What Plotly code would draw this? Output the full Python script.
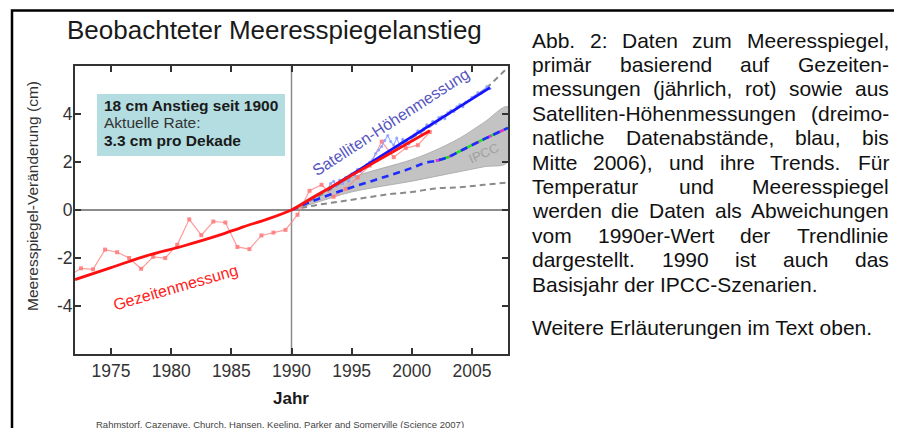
import plotly.graph_objects as go

# ---------------- data ----------------
tide_years = [1971.5, 1972.5, 1973.5, 1974.5, 1975.5, 1976.5, 1977.5, 1978.5, 1979.5, 1980.5,
              1981.5, 1982.5, 1983.5, 1984.5, 1985.5, 1986.5, 1987.5, 1988.5, 1989.5, 1990.5,
              1991.5, 1992.5, 1993.5, 1994.5, 1995.5, 1996.5, 1997.5, 1998.5, 1999.5, 2000.5, 2001.5]
tide_values = [-2.75, -2.43, -2.47, -1.65, -1.76, -2.0, -2.45, -1.95, -2.0, -1.45,
               -0.39, -1.05, -0.48, -0.52, -1.54, -1.63, -1.06, -0.94, -0.83, -0.2,
               0.8, 1.05, 0.55, 0.88, 1.35, 1.85, 2.85, 2.2, 2.58, 2.7, 3.25]

tide_trend_years = [1972, 1975, 1978, 1981, 1984, 1986, 1988, 1990, 1992, 1995, 1998, 2001.5]
tide_trend_values = [-2.9, -2.4, -1.9, -1.5, -1.05, -0.7, -0.38, 0.0, 0.58, 1.45, 2.3, 3.3]

sat_years = [1993.0 + 0.25 * i for i in range(55)]
sat_values = [0.85, 1.1, 1.2, 1.0, 1.25, 1.1, 1.35, 1.2, 1.5, 1.45,
              1.7, 1.6, 1.75, 1.9, 2.0, 2.1, 2.35, 2.5, 2.65, 2.9,
              3.1, 2.85, 2.7, 3.0, 2.7, 2.95, 2.8, 2.75, 3.0, 3.15,
              3.3, 3.2, 3.4, 3.55, 3.5, 3.7, 3.6, 3.85, 3.9, 3.8,
              4.05, 4.15, 4.1, 4.3, 4.4, 4.3, 4.5, 4.55, 4.7, 4.75,
              4.9, 4.85, 5.0, 5.15, 5.05]

sat_trend_years = [1993.0, 2006.5]
sat_trend_values = [0.85, 5.1]

ipcc_years = [1990, 1992, 1995, 2000, 2002, 2004, 2006, 2008]
ipcc_upper = [0.0, 0.65, 1.35, 2.1, 2.5, 3.0, 3.65, 4.3]
ipcc_lower = [0.0, 0.3, 0.75, 1.2, 1.4, 1.6, 1.8, 2.0]

ipcc_mid_years = [1990, 1991, 1992, 1994, 1996, 1998, 2000, 2001, 2002, 2003, 2004, 2006, 2008]
ipcc_mid_values = [0.0, 0.22, 0.42, 0.78, 1.1, 1.42, 1.75, 1.95, 2.05, 2.2, 2.45, 2.95, 3.42]

proj_high_years = [1990, 1991, 1992, 1994, 1996, 1998, 2000, 2002, 2004, 2006, 2008]
proj_high_values = [0.0, 0.25, 0.5, 1.1, 1.75, 2.4, 3.0, 3.65, 4.3, 5.0, 5.95]

proj_low_years = [1990, 1991, 1992, 1994, 1996, 1998, 2000, 2002, 2004, 2006, 2008]
proj_low_values = [0.0, 0.1, 0.2, 0.35, 0.5, 0.65, 0.75, 0.9, 0.95, 1.05, 1.15]

scen_years = [2002, 2003, 2004, 2006, 2008]
scen_values = [2.05, 2.2, 2.45, 2.95, 3.42]

x_ticks = [1975, 1980, 1985, 1990, 1995, 2000, 2005]
y_ticks = [-4, -2, 0, 2, 4]
y_tick_labels = ["-4", "-2", "0", "2", "4"]

caption_lines = [
    "Abb. 2: Daten zum Meeresspiegel,",
    "primär basierend auf Gezeiten-",
    "messungen (jährlich, rot) sowie aus",
    "Satelliten-Höhenmessungen (dreimo-",
    "natliche Datenabstände, blau, bis",
    "Mitte 2006), und ihre Trends. Für",
    "Temperatur und Meeresspiegel",
    "werden die Daten als Abweichungen",
    "vom 1990er-Wert der Trendlinie",
    "dargestellt. 1990 ist auch das",
    "Basisjahr der IPCC-Szenarien.",
]
caption_extra = "Weitere Erläuterungen im Text oben."

# ---------------- layout helpers ----------------
OFF = 8                      # page body margin added by the html page
W, H = 902 - OFF, 428 - OFF
PL, PR, PT, PB = 75, 508, 66, 354   # plot area in page pixels


def fx(px):
    return (px - PL) / (PR - PL)


def fy(py):
    return (PB - py) / (PB - PT)


# Arial / Liberation Sans advance widths (per 1000 em)
AW = {' ': 278, '.': 278, ',': 278, ':': 278, '(': 333, ')': 333, '-': 333,
      'a': 556, 'b': 556, 'c': 500, 'd': 556, 'e': 556, 'f': 278, 'g': 556, 'h': 556,
      'i': 222, 'j': 222, 'k': 500, 'l': 222, 'm': 833, 'n': 556, 'o': 556, 'p': 556,
      'q': 556, 'r': 333, 's': 500, 't': 278, 'u': 556, 'v': 500, 'w': 722, 'x': 500,
      'y': 500, 'z': 500, 'ä': 556, 'ö': 556, 'ü': 556,
      'A': 667, 'B': 667, 'C': 722, 'D': 722, 'E': 667, 'F': 611, 'G': 778, 'H': 722,
      'I': 278, 'J': 500, 'K': 667, 'L': 556, 'M': 833, 'N': 722, 'O': 778, 'P': 667,
      'R': 722, 'S': 667, 'T': 611, 'U': 722, 'V': 667, 'W': 944, 'Z': 611}
for d in "0123456789":
    AW[d] = 556


def text_w(s, size):
    return sum(AW.get(ch, 556) for ch in s) * size / 1000.0


FONT = "Liberation Sans, Arial, sans-serif"

fig = go.Figure()

# IPCC band
fig.add_trace(go.Scatter(
    x=ipcc_years + ipcc_years[::-1], y=ipcc_upper + ipcc_lower[::-1],
    fill="toself", fillcolor="rgba(185,185,185,0.85)", line=dict(color="rgba(160,160,160,0.9)", width=0.8),
    mode="lines", hoverinfo="skip", showlegend=False, line_shape="spline"))

# grey dashed projections
fig.add_trace(go.Scatter(x=proj_low_years, y=proj_low_values, mode="lines",
                         line=dict(color="#8a8a8a", width=2, dash="6px,4px", shape="spline"),
                         showlegend=False))
fig.add_trace(go.Scatter(x=proj_high_years, y=proj_high_values, mode="lines",
                         line=dict(color="#8a8a8a", width=2, dash="6px,4px", shape="spline"),
                         showlegend=False))

# tide gauge annual data
fig.add_trace(go.Scatter(x=tide_years, y=tide_values, mode="lines+markers",
                         line=dict(color="rgba(255,130,130,0.8)", width=1.2),
                         marker=dict(symbol="square", size=4, color="rgba(255,120,120,0.85)"),
                         showlegend=False))

# satellite data
fig.add_trace(go.Scatter(x=sat_years, y=sat_values, mode="lines+markers",
                         line=dict(color="rgba(140,160,255,0.85)", width=1.2),
                         marker=dict(symbol="circle", size=3, color="rgba(140,160,255,0.9)"),
                         showlegend=False))

# scenario colour dashes
fig.add_trace(go.Scatter(x=scen_years, y=scen_values, mode="lines",
                         line=dict(color="#22dd22", width=2.6, shape="spline"), showlegend=False))
fig.add_trace(go.Scatter(x=scen_years, y=scen_values, mode="lines",
                         line=dict(color="#ee22ee", width=2.6, dash="5px,9px", shape="spline"), showlegend=False))

# IPCC central projection
fig.add_trace(go.Scatter(x=ipcc_mid_years, y=ipcc_mid_values, mode="lines",
                         line=dict(color="#1f2cff", width=2.6, dash="7px,5px", shape="spline"),
                         showlegend=False))

# satellite trend
fig.add_trace(go.Scatter(x=sat_trend_years, y=sat_trend_values, mode="lines",
                         line=dict(color="#1414ff", width=2.6), showlegend=False))

# tide gauge trend
fig.add_trace(go.Scatter(x=tide_trend_years, y=tide_trend_values, mode="lines",
                         line=dict(color="#ff1010", width=2.8, shape="spline", smoothing=0.8),
                         showlegend=False))

shapes = [
    dict(type="line", xref="x", yref="paper", x0=1990, x1=1990, y0=0, y1=1,
         line=dict(color="#8c8c8c", width=1.5), layer="below"),
    dict(type="rect", xref="paper", yref="paper", x0=fx(97), x1=fx(285), y0=fy(156), y1=fy(94),
         fillcolor="#b3dde1", line=dict(width=0), layer="below"),
    dict(type="rect", xref="paper", yref="paper", x0=fx(12), x1=fx(895.5), y0=fy(445), y1=fy(10.5),
         line=dict(color="black", width=2.5), fillcolor="rgba(0,0,0,0)"),
]

ann = []
ann.append(dict(x=fx(274), y=fy(30), text="Beobachteter Meeresspiegelanstieg",
                font=dict(family=FONT, size=26, color="#1a1a1a")))
ann.append(dict(x=fx(32), y=fy(196), text="Meeresspiegel-Veränderung (cm)", textangle=-90,
                font=dict(family=FONT, size=15.5, color="#333333")))
ann.append(dict(x=fx(291), y=fy(398), text="<b>Jahr</b>",
                font=dict(family=FONT, size=17, color="#1a1a1a")))
ann.append(dict(x=fx(280), y=fy(424), text="Rahmstorf, Cazenave, Church, Hansen, Keeling, Parker and Somerville (Science 2007)",
                font=dict(family=FONT, size=9.5, color="#444444")))
ann.append(dict(x=fx(102), y=fy(106), text="<b>18 cm Anstieg seit 1900</b>", xanchor="left",
                font=dict(family=FONT, size=15.5, color="#1a1a1a")))
ann.append(dict(x=fx(102), y=fy(123), text="Aktuelle Rate:", xanchor="left",
                font=dict(family=FONT, size=15.5, color="#333333")))
ann.append(dict(x=fx(102), y=fy(140), text="<b>3.3 cm pro Dekade</b>", xanchor="left",
                font=dict(family=FONT, size=15.5, color="#1a1a1a")))
ann.append(dict(x=fx(390), y=fy(122), text="Satelliten-Höhenmessung", textangle=-33,
                font=dict(family=FONT, size=16, color="#5555c0")))
ann.append(dict(x=fx(175), y=fy(287), text="Gezeitenmessung", textangle=-16,
                font=dict(family=FONT, size=16, color="#ff2222")))
ann.append(dict(x=fx(483), y=fy(153), text="IPCC", textangle=-24,
                font=dict(family=FONT, size=13, color="#a0a0a0")))

# justified caption
CS = 21
CL, CR = 531, 888
for i, line in enumerate(caption_lines):
    yy = 40 + 24.4 * i
    words = line.split(" ")
    last = (i == len(caption_lines) - 1)
    widths = [text_w(w, CS) for w in words]
    if last or len(words) == 1:
        gap = text_w(" ", CS)
    else:
        gap = (CR - CL - sum(widths)) / (len(words) - 1)
    xx = CL
    for w, ww in zip(words, widths):
        ann.append(dict(x=fx(xx - 1), y=fy(yy), text=w, xanchor="left",
                        font=dict(family=FONT, size=CS, color="#111111")))
        xx += ww + gap
ann.append(dict(x=fx(CL - 1), y=fy(327), text=caption_extra, xanchor="left",
                font=dict(family=FONT, size=CS, color="#111111")))

for a in ann:
    a.setdefault("xref", "paper")
    a.setdefault("yref", "paper")
    a.setdefault("showarrow", False)
    a.setdefault("xanchor", "center")
    a.setdefault("yanchor", "middle")

fig.update_layout(
    width=W, height=H,
    margin=dict(l=PL - OFF, r=(W + OFF) - PR, t=PT - OFF, b=(H + OFF) - PB, pad=0),
    paper_bgcolor="white", plot_bgcolor="white",
    showlegend=False,
    shapes=shapes, annotations=ann,
    xaxis=dict(range=[1972, 2008], tickvals=x_ticks, ticks="inside", ticklen=6, tickwidth=1.5,
               tickcolor="#333", showline=True, linecolor="#333", linewidth=2, mirror="allticks",
               showgrid=False, zeroline=False,
               tickfont=dict(family=FONT, size=17.5, color="#333333")),
    yaxis=dict(range=[-6, 6], tickvals=y_ticks, ticktext=y_tick_labels, ticks="inside", ticklen=6,
               tickwidth=1.5, ticklabelstandoff=-3,
               tickcolor="#333", showline=True, linecolor="#333", linewidth=2, mirror="allticks",
               showgrid=False, zeroline=True, zerolinecolor="#8c8c8c", zerolinewidth=1.5,
               tickfont=dict(family=FONT, size=17.5, color="#333333")),
)

fig.write_html("out.html")
